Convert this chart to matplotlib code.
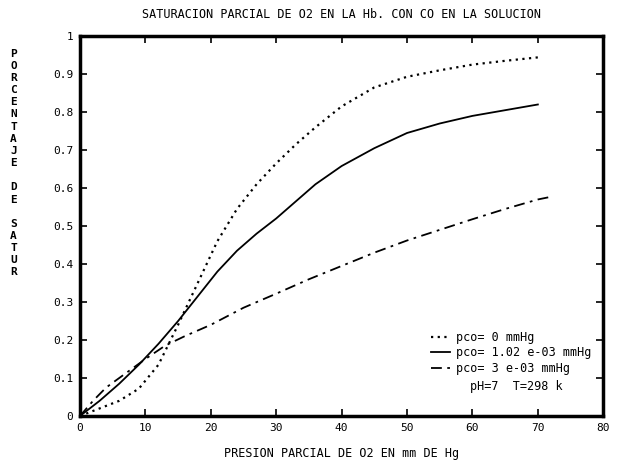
import matplotlib
matplotlib.use('Agg')
import matplotlib.pyplot as plt
import numpy as np

# Datos leidos del grafico
# pco = 0 mmHg
x_pco0 = [0, 3, 6, 9, 12, 15, 18, 21, 24, 27, 30, 33, 36, 40, 45, 50, 55, 60, 65, 70]
y_pco0 = [0, 0.02, 0.04, 0.072, 0.135, 0.24, 0.35, 0.46, 0.545, 0.61, 0.665, 0.715, 0.76,
          0.815, 0.865, 0.893, 0.91, 0.925, 0.935, 0.944]

# pco = 1.02 e-03 mmHg
x_pco1 = [0, 3, 6, 9, 12, 15, 18, 21, 24, 27, 30, 33, 36, 40, 45, 50, 55, 60, 65, 70]
y_pco1 = [0, 0.04, 0.085, 0.135, 0.19, 0.25, 0.315, 0.38, 0.435, 0.48, 0.52, 0.565, 0.61,
          0.658, 0.705, 0.745, 0.77, 0.79, 0.805, 0.82]

# pco = 3 e-03 mmHg
x_pco3 = [0, 2, 4, 6, 8, 10, 13, 16, 20, 25, 30, 35, 40, 45, 50, 55, 60, 65, 70, 72]
y_pco3 = [0, 0.04, 0.075, 0.1, 0.125, 0.15, 0.185, 0.21, 0.24, 0.285, 0.322, 0.36, 0.395,
          0.43, 0.462, 0.49, 0.518, 0.545, 0.57, 0.577]

xticks = [0, 10, 20, 30, 40, 50, 60, 70, 80]
yticks = [0, 0.1, 0.2, 0.3, 0.4, 0.5, 0.6, 0.7, 0.8, 0.9, 1.0]
ytick_labels = ['0', '0.1', '0.2', '0.3', '0.4', '0.5', '0.6', '0.7', '0.8', '0.9', '1']

font = 'DejaVu Sans Mono'

fig = plt.figure(figsize=(6.2, 4.63), dpi=100)
ax = fig.add_axes([0.129, 0.1015, 0.844, 0.8205])

ax.plot(x_pco0, y_pco0, color='black', lw=1.6, linestyle=(0, (1, 2)), label='pco= 0 mmHg')
ax.plot(x_pco1, y_pco1, color='black', lw=1.3, linestyle='-', label='pco= 1.02 e-03 mmHg')
ax.plot(x_pco3, y_pco3, color='black', lw=1.3, linestyle=(0, (6, 3, 1.5, 3)),
        label='pco= 3 e-03 mmHg')

ax.set_xlim(0, 80)
ax.set_ylim(0, 1)
ax.set_xticks(xticks)
ax.set_xticklabels([str(t) for t in xticks], fontfamily=font, fontsize=8)
ax.set_yticks(yticks)
ax.set_yticklabels(ytick_labels, fontfamily=font, fontsize=8)
ax.tick_params(direction='in', top=True, right=True, length=5, width=1.2, pad=5)

for s in ax.spines.values():
    s.set_linewidth(2.5)

ax.set_title('SATURACION PARCIAL DE O2 EN LA Hb. CON CO EN LA SOLUCION',
             fontfamily=font, fontsize=8.5, pad=13)
ax.set_xlabel('PRESION PARCIAL DE O2 EN mm DE Hg', fontfamily=font, fontsize=8.5, labelpad=10)

# etiqueta vertical con letras apiladas
fig.text(0.022, 0.895, '\n'.join('PORCENTAJE DE SATUR'),
         fontfamily=font, fontsize=8, fontweight='bold', ha='center', va='top',
         linespacing=1.27)

leg = ax.legend(loc='lower right', bbox_to_anchor=(0.99, 0.09), frameon=False,
                prop={'family': font, 'size': 8.5}, handlelength=1.6, handletextpad=0.5,
                labelspacing=0.2, borderaxespad=0.2)
ax.text(0.745, 0.095, 'pH=7  T=298 k', transform=ax.transAxes,
        fontfamily=font, fontsize=8.5, va='top')

fig.savefig('out.png', dpi=100)
